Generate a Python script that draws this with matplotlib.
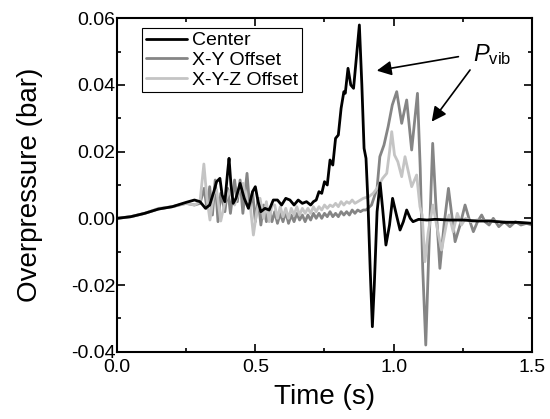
import matplotlib
matplotlib.use("Agg")
import matplotlib.pyplot as plt
from matplotlib.ticker import MultipleLocator

plt.rcParams['font.family'] = ['Liberation Sans', 'DejaVu Sans']
plt.rcParams['mathtext.fontset'] = 'custom'
plt.rcParams['mathtext.rm'] = 'Liberation Sans'
plt.rcParams['mathtext.it'] = 'Liberation Sans:italic'

# Center (black)
t_center = [0.00, 0.05, 0.10, 0.15, 0.20, 0.25, 0.28, 0.30, 0.32, 0.335, 0.35, 0.36, 0.372,
            0.38, 0.39, 0.40, 0.405, 0.412, 0.42, 0.43, 0.445, 0.46, 0.475, 0.49, 0.50,
            0.51, 0.52, 0.535, 0.55, 0.565, 0.58, 0.595, 0.61, 0.625, 0.64, 0.655, 0.67,
            0.685, 0.70, 0.71, 0.72, 0.73, 0.74, 0.75, 0.76, 0.77, 0.78, 0.79, 0.80, 0.81,
            0.82, 0.825, 0.835, 0.845, 0.855, 0.865, 0.876, 0.885, 0.893, 0.90, 0.907,
            0.915, 0.923, 0.93, 0.94, 0.951, 0.96, 0.972, 0.985, 0.996, 1.01, 1.023,
            1.035, 1.047, 1.06, 1.07, 1.09, 1.12, 1.15, 1.20, 1.25, 1.30, 1.35, 1.40,
            1.45, 1.50]
p_center = [0.0, 0.0005, 0.0015, 0.0028, 0.0035, 0.0048, 0.0055, 0.005, 0.003, 0.004, 0.008,
            0.011, 0.012, 0.007, 0.005, 0.014, 0.018, 0.010, 0.0045, 0.006, 0.0105, 0.006,
            0.003, 0.008, 0.0095, 0.005, 0.002, 0.003, 0.0025, 0.0055, 0.0055, 0.004, 0.006,
            0.0055, 0.004, 0.0055, 0.0045, 0.005, 0.004, 0.005, 0.0055, 0.008, 0.0075, 0.011,
            0.010, 0.0175, 0.016, 0.024, 0.025, 0.033, 0.038, 0.0375, 0.045, 0.040, 0.039,
            0.048, 0.058, 0.040, 0.021, 0.018, 0.005, -0.015, -0.0325, -0.020, 0.002,
            0.0106, 0.003, -0.008, -0.002, 0.006, 0.001, -0.0035, -0.001, 0.0025, 0.0,
            -0.001, -0.0003, -0.0005, -0.0003, -0.0005, -0.0005, -0.0008, -0.0008, -0.0012,
            -0.0012, -0.0015]

# X-Y Offset (dark grey)
t_xy = [0.00, 0.05, 0.10, 0.15, 0.20, 0.25, 0.28, 0.30, 0.315, 0.325, 0.335, 0.345, 0.355,
        0.365, 0.375, 0.39, 0.40, 0.41, 0.425, 0.435, 0.445, 0.455, 0.47, 0.48, 0.49, 0.50,
        0.51, 0.52, 0.53, 0.54, 0.55, 0.56, 0.57, 0.58, 0.59, 0.60, 0.61, 0.62, 0.63, 0.64,
        0.65, 0.66, 0.67, 0.68, 0.69, 0.70, 0.71, 0.72, 0.73, 0.74, 0.75, 0.76, 0.77, 0.78,
        0.79, 0.80, 0.81, 0.82, 0.83, 0.84, 0.85, 0.86, 0.87, 0.88, 0.89, 0.90, 0.92, 0.94,
        0.95, 0.965, 0.98, 0.995, 1.011, 1.029, 1.047, 1.065, 1.086, 1.096, 1.105, 1.116,
        1.127, 1.141, 1.152, 1.167, 1.182, 1.198, 1.21, 1.222, 1.24, 1.258, 1.272, 1.288,
        1.303, 1.318, 1.33, 1.345, 1.36, 1.38, 1.40, 1.42, 1.44, 1.46, 1.48, 1.50]
p_xy = [0.0, 0.0005, 0.0015, 0.0028, 0.0035, 0.0045, 0.004, 0.0045, 0.009, 0.003, 0.0095,
        0.001, 0.0115, -0.001, 0.0075, 0.002, 0.009, 0.0015, 0.0115, 0.005, 0.0115, 0.0015,
        0.0135, 0.003, 0.008, -0.001, 0.006, -0.002, 0.004, -0.001, 0.003, -0.001, 0.002,
        -0.0015, 0.0015, -0.001, 0.002, -0.0015, 0.001, -0.001, 0.0015, -0.0005, 0.001,
        -0.001, 0.001, -0.0005, 0.0015, 0.0, 0.0015, 0.0, 0.0015, 0.0005, 0.002, 0.0005,
        0.0015, 0.0005, 0.002, 0.001, 0.002, 0.001, 0.0025, 0.0015, 0.0025, 0.002, 0.0025,
        0.0025, 0.004, 0.009, 0.0185, 0.022, 0.0275, 0.034, 0.038, 0.0285, 0.0355, 0.0205,
        0.0375, 0.015, -0.015, -0.038, -0.010, 0.0225, 0.005, -0.015, -0.002, 0.009, 0.001,
        -0.007, -0.002, 0.004, 0.0, -0.004, -0.001, 0.001, -0.001, -0.002, 0.0, -0.0025,
        -0.001, -0.0025, -0.001, -0.002, -0.0015, -0.002]

# X-Y-Z Offset (light grey)
t_xyz = [0.00, 0.05, 0.10, 0.15, 0.20, 0.25, 0.28, 0.30, 0.314, 0.325, 0.336, 0.35, 0.36,
         0.375, 0.39, 0.408, 0.425, 0.44, 0.456, 0.47, 0.48, 0.493, 0.505, 0.517, 0.53,
         0.54, 0.55, 0.56, 0.57, 0.58, 0.59, 0.60, 0.61, 0.62, 0.63, 0.64, 0.65, 0.66, 0.67,
         0.68, 0.69, 0.70, 0.71, 0.72, 0.73, 0.74, 0.75, 0.76, 0.77, 0.78, 0.79, 0.80, 0.81,
         0.82, 0.83, 0.84, 0.85, 0.86, 0.87, 0.88, 0.89, 0.91, 0.926, 0.94, 0.96, 0.975,
         0.985, 0.993, 1.003, 1.015, 1.029, 1.041, 1.053, 1.065, 1.083, 1.095, 1.103, 1.113,
         1.125, 1.142, 1.155, 1.173, 1.19, 1.20, 1.215, 1.23, 1.245, 1.26, 1.28, 1.30, 1.35,
         1.40, 1.45, 1.50]
p_xyz = [0.0, 0.0005, 0.0015, 0.003, 0.0035, 0.0045, 0.004, 0.005, 0.0163, 0.006, -0.0005,
         0.0075, 0.0085, -0.0008, 0.005, 0.0085, 0.004, 0.008, 0.0105, 0.004, 0.005, -0.005,
         0.002, 0.006, 0.0, 0.005, -0.001, 0.004, 0.004, 0.0, 0.0035, 0.0005, 0.003, 0.0,
         0.003, 0.001, 0.0035, 0.001, 0.003, 0.0015, 0.003, 0.0015, 0.0035, 0.002, 0.0035,
         0.0025, 0.004, 0.003, 0.004, 0.0035, 0.0045, 0.0035, 0.005, 0.004, 0.005, 0.0045,
         0.0055, 0.0045, 0.005, 0.0055, 0.006, 0.0065, 0.0075, 0.009, 0.012, 0.0135, 0.020,
         0.026, 0.019, 0.017, 0.0125, 0.0185, 0.014, 0.0095, 0.013, 0.0035, 0.001, -0.013,
         -0.004, 0.004, -0.002, -0.0095, -0.002, 0.001, -0.004, 0.0015, -0.002, 0.0, -0.001,
         -0.0005, -0.0008, -0.001, -0.0012, -0.0015]

fig = plt.figure(figsize=(5.5, 4.19), dpi=100)
ax = fig.add_axes([0.2127, 0.1606, 0.7546, 0.7957])

line_kw = dict(lw=2.0, solid_joinstyle='round', solid_capstyle='round')
ax.plot(t_center, p_center, color='black', label='Center', zorder=3, **line_kw)
ax.plot(t_xy, p_xy, color='#858585', label='X-Y Offset', zorder=2, **line_kw)
ax.plot(t_xyz, p_xyz, color='#c4c4c4', label='X-Y-Z Offset', zorder=2.5, **line_kw)

ax.set_xlim(0, 1.5)
ax.set_ylim(-0.04, 0.06)
ax.xaxis.set_major_locator(MultipleLocator(0.5))
ax.xaxis.set_minor_locator(MultipleLocator(0.25))
ax.yaxis.set_major_locator(MultipleLocator(0.02))
ax.yaxis.set_minor_locator(MultipleLocator(0.01))
ax.yaxis.set_major_formatter(plt.FormatStrFormatter('%.2f'))
ax.xaxis.set_major_formatter(plt.FormatStrFormatter('%.1f'))
ax.tick_params(which='both', direction='in', top=True, right=True, labelsize=14, width=1.2)
ax.tick_params(which='major', length=6)
ax.tick_params(which='minor', length=3)
ax.tick_params(axis='y', pad=1)
ax.tick_params(axis='x', pad=5)
for s in ax.spines.values():
    s.set_linewidth(1.5)

ax.set_xlabel('Time (s)', fontsize=20, labelpad=6)
ax.set_ylabel('Overpressure (bar)', fontsize=20, labelpad=20)

leg = ax.legend(loc='upper left', bbox_to_anchor=(0.06, 0.971), borderaxespad=0,
                fancybox=False, edgecolor='black', framealpha=1, fontsize=14,
                handlelength=2.1, handletextpad=0.3, labelspacing=0.1, borderpad=0.2)
leg.get_frame().set_linewidth(0.8)

arrow = dict(arrowstyle='-|>', mutation_scale=22, lw=1.2, color='black', shrinkA=0, shrinkB=0)
ax.annotate('', xy=(0.939, 0.0443), xytext=(1.234, 0.0485), arrowprops=arrow)
ax.annotate('', xy=(1.1375, 0.029), xytext=(1.276, 0.0445), arrowprops=arrow)
ax.text(1.285, 0.049, r'$P_{\mathrm{vib}}$', fontsize=17, ha='left', va='center')

fig.savefig('out.png', dpi=100)
